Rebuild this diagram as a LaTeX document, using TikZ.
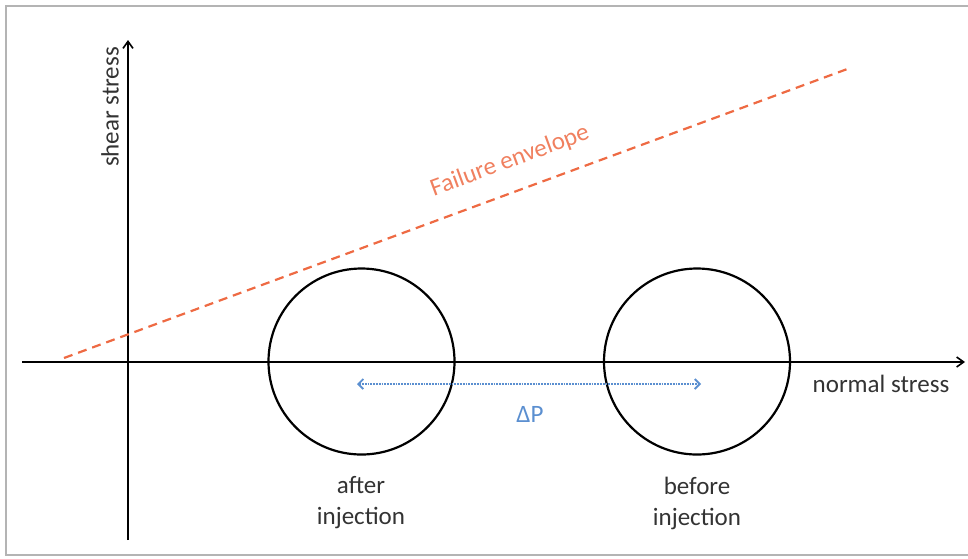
\documentclass[tikz,border=0pt]{standalone}
\usepackage{fontspec}
\setmainfont{Carlito}
\usepackage{tikz}
\usetikzlibrary{arrows.meta}
\usepackage{xcolor}
\definecolor{envred}{HTML}{EE6A43}
\definecolor{dpblue}{HTML}{5B8FD0}
\definecolor{framegray}{HTML}{B4B4B4}

\begin{document}
\begin{tikzpicture}[x=1pt,y=1pt,
		axis/.style={line width=1.6pt, -{Straight Barb[length=7pt,width=10pt]}},
		mohr/.style={circle, draw, line width=2.2pt, minimum size=186pt, inner sep=0pt},
		envelope/.style={envred, dashed, line width=2.2pt, dash pattern=on 9pt off 6pt},
		dparrow/.style={dpblue, densely dotted, line width=1.8pt, {Straight Barb[length=5pt,width=10pt]}-{Straight Barb[length=5pt,width=10pt]}},
		lbl/.style={font=\fontsize{25}{31}\selectfont, text=black!80, align=center, inner sep=0pt}]
		
		\useasboundingbox (0,0) rectangle (968,-558);
		
		% frame
		\draw[framegray, line width=1.6pt] (6,-6) rectangle (975,-555);
		
		% axes
		\coordinate (ybot) at (128,-540);
		\coordinate (ytop) at (128,-40);
		\coordinate (xleft) at (22,-362);
		\coordinate (xright) at (965,-362);
		\draw[axis] (ybot) -- (ytop);
		\draw[axis] (xleft) -- (xright);
		\node[lbl, rotate=90] (shear) at (110,-107) {shear stress};
		\node[lbl] (normal) at (881,-384) {normal stress};
		
		% failure envelope
		\coordinate (envA) at (64,-358);
		\coordinate (envB) at (850,-68);
		\draw[envelope] (envA) -- (envB);
		\node[lbl, text=envred!85, rotate=20.2] (envlbl) at (510,-161) {Failure envelope};
		
		% Mohr circles
		\node[mohr] (after) at (361.5,-361.5) {};
		\node[mohr] (before) at (697,-361.5) {};
		\node[lbl] (afterlbl) at (361,-503) {after\\injection};
		\node[lbl] (beforelbl) at (697,-503) {before\\injection};
		
		% pressure change
		\coordinate (dpA) at (357,-384);
		\coordinate (dpB) at (701,-384);
		\draw[dparrow] (dpA) -- (dpB);
		\node[lbl, text=dpblue] (dp) at (530,-414) {ΔP};
		
	\end{tikzpicture}
\end{document}
